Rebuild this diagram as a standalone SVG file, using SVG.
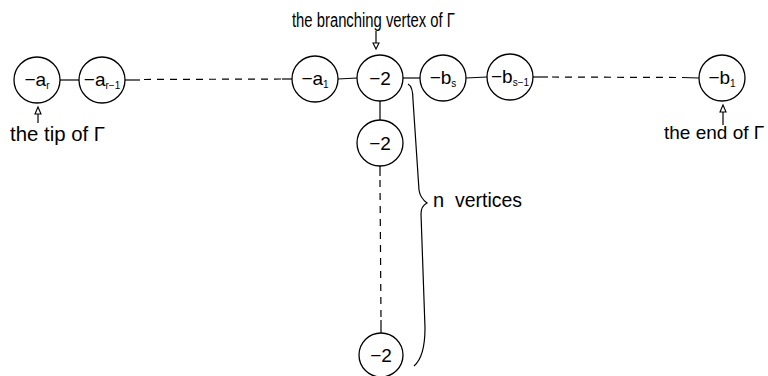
<svg xmlns="http://www.w3.org/2000/svg" width="768" height="376" viewBox="0 0 768 376">
<style>
.n{fill:#fff;stroke:#000;stroke-width:1.3}
.l{font-family:"Liberation Sans",Arial,sans-serif;font-size:19px;fill:#000;text-anchor:middle}
.s{font-size:10px}
.t{font-family:"Liberation Sans",Arial,sans-serif;font-size:20px;fill:#000}
.c{stroke:#000;stroke-width:1.2;fill:none}
.d{stroke:#000;stroke-width:1.2;fill:none;stroke-dasharray:7 6}
.p{fill:#fff;stroke:#000;stroke-width:1.1}
</style>
<rect width="768" height="376" fill="#fff"/>
<g id="connectors">
<line class="c" x1="60" y1="80" x2="79" y2="80"/>
<line class="c" x1="125" y1="80" x2="140" y2="80"/>
<line class="d" x1="144" y1="79.5" x2="282" y2="79"/>
<line class="c" x1="282" y1="79" x2="292" y2="79"/>
<line class="c" x1="338" y1="79" x2="357" y2="78"/>
<line class="c" x1="403" y1="78" x2="420" y2="78"/>
<line class="c" x1="466" y1="78" x2="487" y2="77"/>
<line class="c" x1="533" y1="77" x2="548" y2="77"/>
<line class="d" x1="552" y1="77" x2="682" y2="77.5"/>
<line class="c" x1="682" y1="77.5" x2="699" y2="78"/>
<line class="c" x1="380" y1="101" x2="380" y2="120"/>
<line class="c" x1="380" y1="166" x2="380" y2="176"/>
<line class="d" x1="380" y1="180" x2="381" y2="320"/>
<line class="c" x1="381" y1="320" x2="381" y2="333"/>
</g>
<g id="node-ar"><circle class="n" cx="37" cy="80" r="23"/><text class="l" x="37" y="86">−a<tspan class="s" dy="3">r</tspan></text></g>
<g id="node-ar1"><circle class="n" cx="102" cy="80" r="23"/><text class="l" x="102" y="86">−a<tspan class="s" dy="3">r−1</tspan></text></g>
<g id="node-a1"><circle class="n" cx="315" cy="79" r="23"/><text class="l" x="315" y="85">−a<tspan class="s" dy="3">1</tspan></text></g>
<g id="node-branch"><circle class="n" cx="380" cy="78" r="23"/><text class="l" x="380" y="85">−2</text></g>
<g id="node-bs"><circle class="n" cx="443" cy="78" r="23"/><text class="l" x="443" y="84">−b<tspan class="s" dy="3">s</tspan></text></g>
<g id="node-bs1"><circle class="n" cx="510" cy="77" r="23"/><text class="l" x="510" y="83">−b<tspan class="s" dy="3">s−1</tspan></text></g>
<g id="node-b1"><circle class="n" cx="722" cy="78" r="23"/><text class="l" x="722" y="84">−b<tspan class="s" dy="3">1</tspan></text></g>
<g id="node-v1"><circle class="n" cx="380" cy="143" r="23"/><text class="l" x="380" y="150">−2</text></g>
<g id="node-vn"><circle class="n" cx="381" cy="355" r="22"/><text class="l" x="381" y="362">−2</text></g>
<g id="brace">
<path class="c" d="M408,84 C412,86 413,92 413,100 L419,190 C420,197 423,200 427,203 C423,205 421,208 421,214 L425,328 C425,348 421,360 414,366"/>
<text class="t" y="207"><tspan x="433">n</tspan><tspan x="455" textLength="67" lengthAdjust="spacingAndGlyphs">vertices</tspan></text>
</g>
<g id="pointers">
<line class="c" x1="376" y1="31" x2="376" y2="43"/>
<path class="p" d="M373,43 L379,43 L376,49 Z"/>
<line class="c" x1="38" y1="114" x2="38" y2="123"/>
<path class="p" d="M35,114 L41,114 L38,107 Z"/>
<line class="c" x1="723" y1="112" x2="723" y2="125"/>
<path class="p" d="M720,112 L726,112 L723,105 Z"/>
</g>
<g id="labels">
<text class="t" x="292" y="27" textLength="163" lengthAdjust="spacingAndGlyphs">the branching vertex of Γ</text>
<text class="t" x="10" y="141" textLength="95" lengthAdjust="spacingAndGlyphs">the tip of Γ</text>
<text class="t" x="664" y="139" style="font-size:19px">the end of Γ</text>
</g>
</svg>
